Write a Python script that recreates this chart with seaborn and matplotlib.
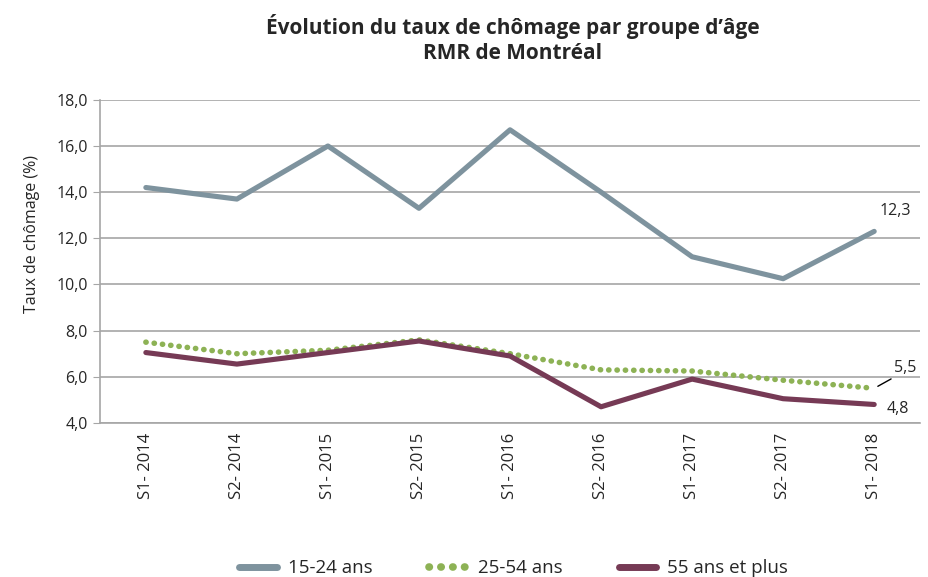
import matplotlib
matplotlib.use("Agg")
import matplotlib.pyplot as plt
import seaborn as sns
import pandas as pd

periods = ["S1- 2014", "S2- 2014", "S1- 2015", "S2- 2015", "S1- 2016",
           "S2- 2016", "S1- 2017", "S2- 2017", "S1- 2018"]
jeunes = [14.2, 13.7, 16.0, 13.3, 16.7, 14.0, 11.2, 10.25, 12.3]
adultes = [7.5, 7.0, 7.15, 7.6, 7.0, 6.3, 6.25, 5.85, 5.5]
aines = [7.05, 6.55, 7.05, 7.55, 6.9, 4.7, 5.9, 5.05, 4.8]
groups = ["15-24 ans", "25-54 ans", "55 ans et plus"]
colors = ["#7E939E", "#8DB255", "#763A55"]

df = pd.DataFrame({
    "periode": periods * 3,
    "taux": jeunes + adultes + aines,
    "groupe": [g for g in groups for _ in periods],
})
df["pos"] = df["periode"].map({p: i for i, p in enumerate(periods)})

sns.set_style("white")
plt.rcParams["font.family"] = ["Open Sans", "DejaVu Sans"]

fig = plt.figure(figsize=(9.29, 5.77), dpi=100)
ax = fig.add_axes([0.108, 0.267, 0.882, 0.56])

sns.lineplot(data=df, x="pos", y="taux", hue="groupe", palette=colors,
             linewidth=3.7, ax=ax, legend=False)
for line in ax.get_lines():
    line.set_solid_capstyle("round")
dotted = ax.get_lines()[1]
dotted.set_linestyle((0, (0.05, 1.45)))
dotted.set_dash_capstyle("round")
dotted.set_linewidth(4.0)

ax.set_xlim(-0.5, len(periods) - 0.5)
ax.set_ylim(4, 18)
ax.set_yticks(range(4, 19, 2))
ax.set_yticklabels([f"{v:.1f}".replace(".", ",") for v in range(4, 19, 2)], fontsize=11.5)
ax.set_xticks(range(len(periods)))
ax.set_xticklabels(periods, rotation=90, fontsize=12)
ax.set_xlabel("")
ax.set_ylabel("Taux de chômage (%)", fontsize=11.5)
ax.yaxis.set_label_coords(-0.074, 0.585)
ax.yaxis.grid(True, color="#A6A6A6", linewidth=1.2)
ax.set_axisbelow(True)
for s in ["top", "right"]:
    ax.spines[s].set_visible(False)
for s in ["left", "bottom"]:
    ax.spines[s].set_color("#A6A6A6")
    ax.spines[s].set_linewidth(1.2)
ax.tick_params(axis="y", length=5, color="#A6A6A6", left=True, pad=4)
ax.tick_params(axis="x", length=0, pad=7)

last = len(periods) - 1
ax.annotate(f"{jeunes[-1]:.1f}".replace(".", ","), (last, jeunes[-1]),
            xytext=(4, 12), textcoords="offset points", fontsize=11.5)
ax.annotate(f"{adultes[-1]:.1f}".replace(".", ","), (last, adultes[-1]),
            xytext=(14, 12), textcoords="offset points", fontsize=11.5,
            arrowprops=dict(arrowstyle="-", color="black", lw=1, shrinkA=0, shrinkB=3,
                            relpos=(0.15, 0)))
ax.annotate(f"{aines[-1]:.1f}".replace(".", ","), (last, aines[-1]),
            xytext=(9, -6), textcoords="offset points", fontsize=11.5)

fig.text(0.552, 0.975, "Évolution du taux de chômage par groupe d’âge\nRMR de Montréal",
         ha="center", va="top", fontsize=15, fontweight="bold", linespacing=1.2)

handles = [plt.Line2D([], [], color=colors[0], lw=5, solid_capstyle="round"),
           plt.Line2D([], [], color=colors[1], lw=5.5, linestyle=(0, (0.05, 1.5)),
                      dash_capstyle="round"),
           plt.Line2D([], [], color=colors[2], lw=5, solid_capstyle="round")]
fig.legend(handles, groups, loc="lower center", bbox_to_anchor=(0.553, -0.03),
           ncol=3, frameon=False, fontsize=13.5, handlelength=2.0, columnspacing=3.0,
           handletextpad=0.6)

fig.savefig("out.png", dpi=100)
